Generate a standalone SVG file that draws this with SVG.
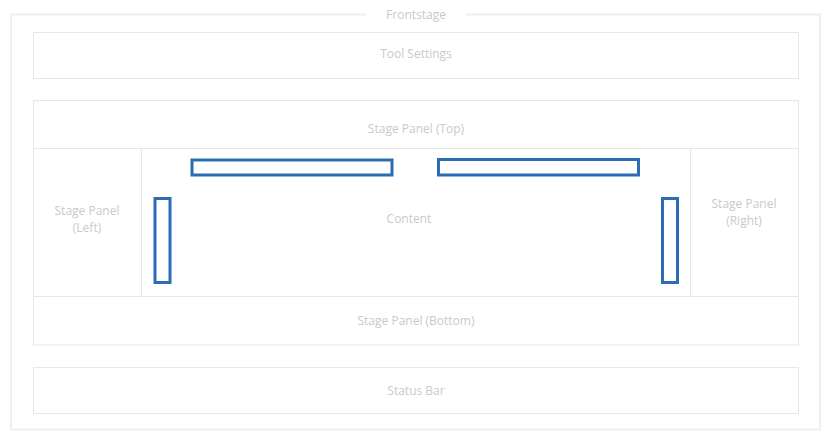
<svg xmlns="http://www.w3.org/2000/svg" width="837" height="442" viewBox="0 0 837 442">
<style>
.frame{fill:none;stroke:#efefef;stroke-width:2}
.box{fill:#ffffff;stroke:#e6e6e6;stroke-width:1}
.lbl{font-family:"Open Sans","Noto Sans",sans-serif;font-size:12px;fill:#c9c9c9;text-anchor:middle;dominant-baseline:central}
.blue{fill:none;stroke:#2b6cb4;stroke-width:3}
</style>
<rect width="837" height="442" fill="#ffffff"/>
<g id="frontstage">
<path class="frame" d="M366,14.5 H11 V429.5 H820 V14.5 H466"/>
<text class="lbl" x="416" y="14">Frontstage</text>
</g>
<g id="tool-settings">
<rect class="box" x="33.5" y="32.5" width="765" height="46"/>
<text class="lbl" x="416" y="53">Tool Settings</text>
</g>
<g id="stage-panel-top">
<rect class="box" x="33.5" y="100.5" width="765" height="48"/>
<text class="lbl" x="416" y="128">Stage Panel (Top)</text>
</g>
<g id="stage-panel-left">
<rect class="box" x="33.5" y="148.5" width="108" height="148"/>
<text class="lbl" x="87" y="210">Stage Panel</text>
<text class="lbl" x="87" y="227">(Left)</text>
</g>
<g id="content">
<rect class="box" x="141.5" y="148.5" width="549" height="148"/>
<text class="lbl" x="409" y="218">Content</text>
</g>
<g id="stage-panel-right">
<rect class="box" x="690.5" y="148.5" width="108" height="148"/>
<text class="lbl" x="744" y="203">Stage Panel</text>
<text class="lbl" x="744" y="220">(Right)</text>
</g>
<g id="stage-panel-bottom">
<rect class="box" x="33.5" y="296.5" width="765" height="48.5"/>
<text class="lbl" x="416" y="320">Stage Panel (Bottom)</text>
</g>
<g id="status-bar">
<rect class="box" x="33.5" y="367.5" width="765" height="46"/>
<text class="lbl" x="416" y="390">Status Bar</text>
</g>
<g id="highlights">
<rect class="blue" x="192" y="160" width="200" height="15"/>
<rect class="blue" x="438.5" y="159.5" width="200" height="15.5"/>
<rect class="blue" x="155" y="198.5" width="15" height="84"/>
<rect class="blue" x="662.5" y="198.5" width="15" height="84"/>
</g>
</svg>
